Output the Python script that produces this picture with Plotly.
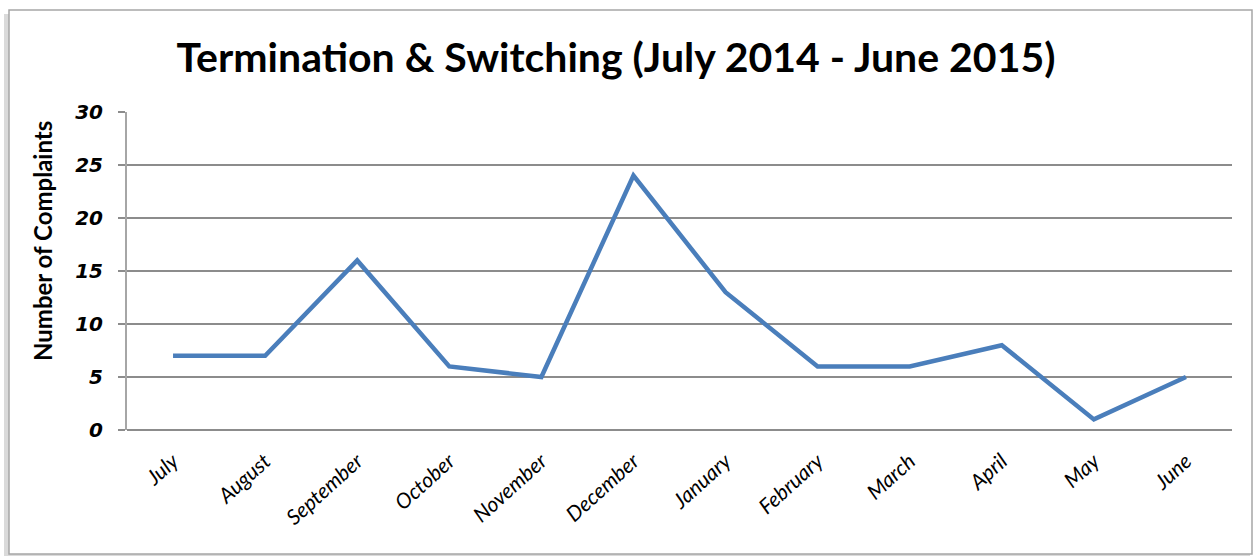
import plotly.graph_objects as go

months = ["July", "August", "September", "October", "November", "December",
          "January", "February", "March", "April", "May", "June"]
complaints = [7, 7, 16, 6, 5, 24, 13, 6, 6, 8, 1, 5]
y_ticks = [0, 5, 10, 15, 20, 25, 30]

W, H = 1257, 556
L, R, T, B = 127, 25, 112, 126
pw, ph = W - L - R, H - T - B

def px(x):
    return (x - L) / pw

def py(y):
    return (H - B - y) / ph

FONT = "Lato"

fig = go.Figure()
fig.add_trace(go.Scatter(
    x=months, y=complaints, mode="lines",
    line=dict(color="#4a7ebb", width=4.5), showlegend=False,
))

shapes = []
shapes.append(dict(type="rect", xref="paper", yref="paper",
                   x0=px(4), x1=px(1250), y0=py(558), y1=py(14),
                   line=dict(width=0), fillcolor="rgba(150,150,150,0.35)", layer="below"))
shapes.append(dict(type="rect", xref="paper", yref="paper",
                   x0=px(9), x1=px(1252), y0=py(554), y1=py(10),
                   line=dict(color="#a6a6a6", width=1.5), fillcolor="white", layer="below"))
fig.update_layout(shapes=shapes)

fig.add_annotation(text="<b>Number of Complaints</b>", xref="paper", yref="paper",
                   x=px(42), y=py(241), xanchor="center", yanchor="middle",
                   textangle=-90, showarrow=False,
                   font=dict(family=FONT, size=24, color="black"))

fig.update_layout(
    width=W, height=H,
    margin=dict(l=L, r=R, t=T, b=B),
    paper_bgcolor="white", plot_bgcolor="white",
    title=dict(text="<b>Termination & Switching (July 2014 - June 2015)</b>",
               x=0.49, xanchor="center", y=1 - 58 / H, yanchor="middle",
               font=dict(family=FONT, size=41, color="black")),
    xaxis=dict(type="category", range=[-0.5, 11.5], showgrid=False,
               showline=False, ticks="", tickangle=-42,
               ticklabelstandoff=14,
               tickfont=dict(family=FONT, size=21, color="black", style="italic"),
               zeroline=False),
    yaxis=dict(range=[0, 30], tickvals=y_ticks, showgrid=True,
               gridcolor="#8c8c8c", gridwidth=1.5,
               showline=True, linecolor="#a6a6a6", linewidth=2,
               ticks="outside", ticklen=7, tickcolor="#8c8c8c", tickwidth=1.5,
               ticklabelstandoff=11,
               tickfont=dict(family="DejaVu Sans", size=20, color="black",
                             style="italic", weight="bold"),
               zeroline=True, zerolinecolor="#8c8c8c", zerolinewidth=1.5),
)

fig.write_html("out.html")
